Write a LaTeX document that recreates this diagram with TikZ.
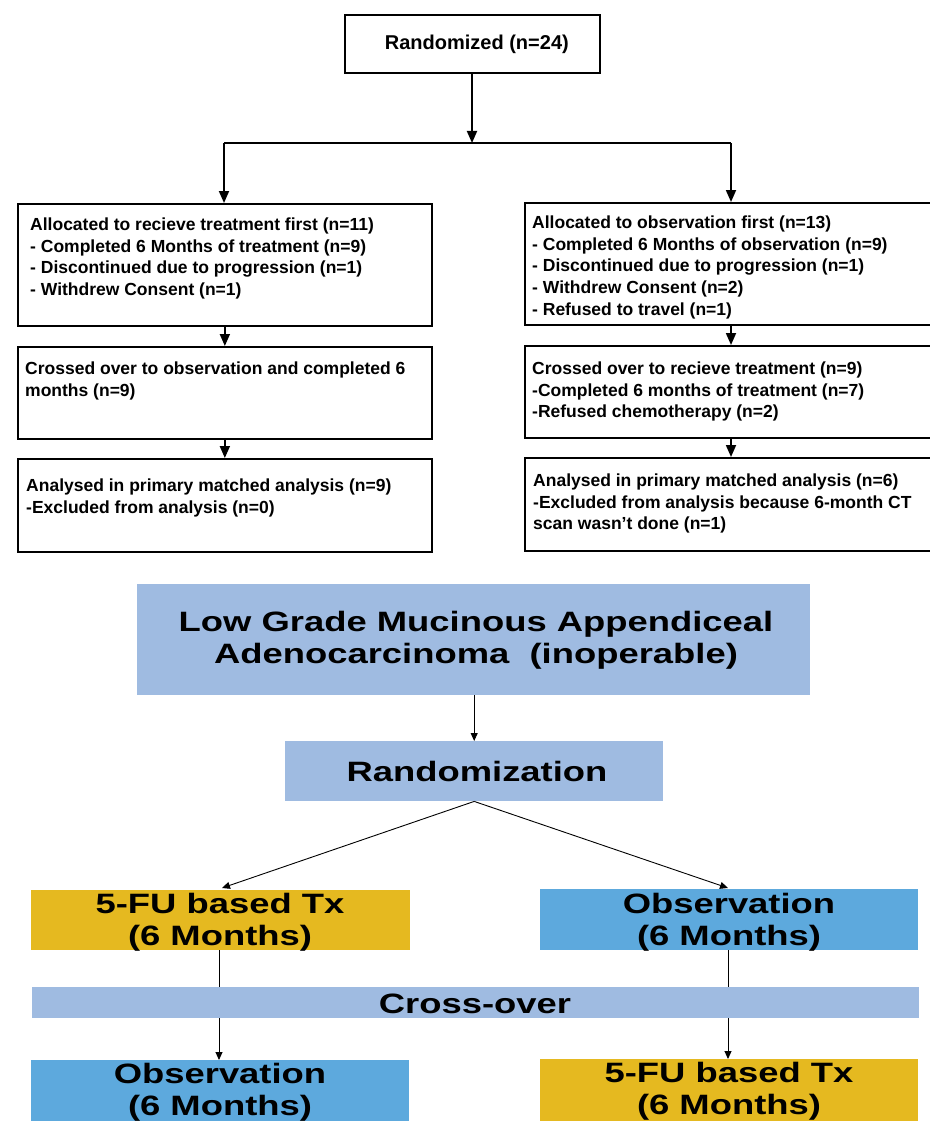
\documentclass[tikz,border=0pt]{standalone}
\usepackage{fontspec}
\setmainfont{Liberation Sans}
\newfontfamily\widefont[FakeStretch=1.3]{Liberation Sans}
\usetikzlibrary{arrows.meta}
\definecolor{lblue}{RGB}{159,187,225}
\definecolor{gold}{RGB}{229,185,32}
\definecolor{mblue}{RGB}{93,169,221}
\begin{document}
\begin{tikzpicture}[x=1pt,y=-1pt,
 box/.style={draw=black, line width=1.7pt, rectangle, anchor=north west, inner sep=0pt},
 txt/.style={anchor=north west, inner sep=0pt, align=left, font=\fontsize{17.5}{21.7}\selectfont\bfseries},
 arrT/.style={line width=1.8pt, -{Triangle[length=12pt,width=10pt]}},
 lineT/.style={line width=1.8pt},
 fbox/.style={rectangle, inner sep=0pt, anchor=north west},
 btxt/.style={align=center, inner sep=0pt, font=\widefont\fontsize{28}{32}\selectfont\bfseries},
 arrB/.style={line width=0.9pt, -{Triangle[length=8pt,width=7pt]}},
 lineB/.style={line width=0.9pt}]
\useasboundingbox (0,0) rectangle (929,1121);
\fill[white] (0,0) rectangle (929,1121);

% ---------- top flow ----------
\node[box, minimum width=255pt, minimum height=58pt, font=\fontsize{20}{24}\selectfont\bfseries] (rnd) at (344,14) {\hspace*{9pt}Randomized (n=24)};
\coordinate (brM) at (472,143);
\coordinate (brL) at (224,143);
\coordinate (brR) at (731,143);

\node[box, minimum width=414pt, minimum height=122pt] (L1) at (17,203) {};
\node[box, minimum width=414pt, minimum height=92pt] (L2) at (17,346) {};
\node[box, minimum width=414pt, minimum height=93pt] (L3) at (17,458) {};
\node[box, minimum width=412pt, minimum height=122pt] (R1) at (524,202) {};
\node[box, minimum width=412pt, minimum height=92pt] (R2) at (524,345) {};
\node[box, minimum width=412pt, minimum height=93pt] (R3) at (524,457) {};

\node[txt] (tL1) at (30,217.5) {Allocated to recieve treatment first (n=11)\\- Completed 6 Months of treatment (n=9)\\- Discontinued due to progression (n=1)\\- Withdrew Consent (n=1)};
\node[txt] (tL2) at (25,361.5) {Crossed over to observation and completed 6\\months (n=9)};
\node[txt] (tL3) at (26,478.5) {Analysed in primary matched analysis (n=9)\\-Excluded from analysis (n=0)};
\node[txt] (tR1) at (532,215.5) {Allocated to observation first (n=13)\\- Completed 6 Months of observation (n=9)\\- Discontinued due to progression (n=1)\\- Withdrew Consent (n=2)\\- Refused to travel (n=1)};
\node[txt] (tR2) at (532,361.5) {Crossed over to recieve treatment (n=9)\\-Completed 6 months of treatment (n=7)\\-Refused chemotherapy (n=2)};
\node[txt] (tR3) at (533,473.5) {Analysed in primary matched analysis (n=6)\\-Excluded from analysis because 6-month CT\\scan wasn’t done (n=1)};

\draw[arrT] (rnd.south -| brM) -- (brM);
\draw[lineT] (brL) -- (brR);
\draw[arrT] (brL) -- (brL |- L1.north);
\draw[arrT] (brR) -- (brR |- R1.north);
\draw[arrT] (L1.south) -- (L2.north);
\draw[arrT] (L2.south) -- (L3.north);
\draw[arrT] (R1.south -| brR) -- (R2.north -| brR);
\draw[arrT] (R2.south -| brR) -- (R3.north -| brR);

% ---------- bottom scheme ----------
\node[fbox, fill=lblue, minimum width=673pt, minimum height=111pt] (lg) at (137,584) {};
\node[btxt] (lgt) at (476,640) {Low Grade Mucinous Appendiceal\\Adenocarcinoma\ \ (inoperable)};
\node[fbox, fill=lblue, minimum width=378pt, minimum height=60pt] (rz) at (285,741) {};
\node[btxt] (rzt) at (477,771) {Randomization};
\node[fbox, fill=gold, minimum width=379pt, minimum height=60pt] (fuL) at (31,890) {};
\node[btxt] (fuLt) at (220,922) {5-FU based Tx\\(6 Months)};
\node[fbox, fill=mblue, minimum width=378pt, minimum height=61pt] (obR) at (540,889) {};
\node[btxt] (obRt) at (729,922) {Observation\\(6 Months)};
\node[fbox, fill=lblue, minimum width=887pt, minimum height=31pt] (co) at (32,987) {};
\node[btxt] (cot) at (475,1004) {Cross-over};
\node[fbox, fill=mblue, minimum width=378pt, minimum height=62pt] (obL) at (31,1060) {};
\node[btxt] (obLt) at (220,1092) {Observation\\(6 Months)};
\node[fbox, fill=gold, minimum width=378pt, minimum height=62pt] (fuR) at (540,1059) {};
\node[btxt] (fuRt) at (729,1091) {5-FU based Tx\\(6 Months)};

\coordinate (cL) at (219,987);
\coordinate (cR) at (728,987);
\draw[arrB] (lg.south -| rz.north) -- (rz.north);
\draw[arrB] (rz.south) -- (222,888);
\draw[arrB] (rz.south) -- (728,888);
\draw[lineB] (fuL.south -| cL) -- (cL);
\draw[arrB] (co.south -| cL) -- (obL.north -| cL);
\draw[lineB] (obR.south -| cR) -- (cR);
\draw[arrB] (co.south -| cR) -- (fuR.north -| cR);
\end{tikzpicture}
\end{document}
